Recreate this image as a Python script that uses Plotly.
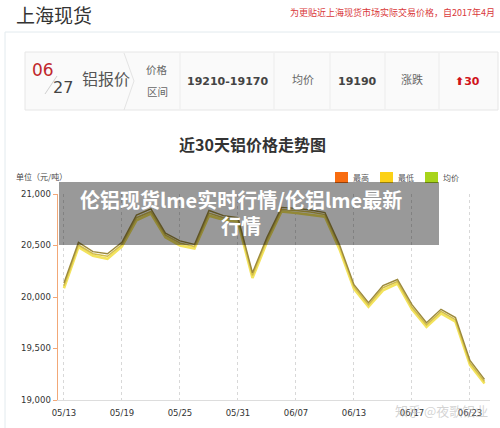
import plotly.graph_objects as go

# ---------------- data ----------------
dates = ["05/13", "05/16", "05/17", "05/18", "05/19", "05/20", "05/23", "05/24", "05/25", "05/26",
         "05/27", "05/30", "05/31", "06/01", "06/02", "06/03", "06/07", "06/08", "06/10", "06/12",
         "06/13", "06/14", "06/15", "06/16", "06/17", "06/20", "06/21", "06/22", "06/23", "06/24"]
price_high = [20135, 20530, 20440, 20420, 20530, 20795, 20855, 20620, 20545, 20510,
              20840, 20790, 20770, 20235, 20580, 20870, 20860, 20845, 20820, 20510,
              20120, 19945, 20110, 20170, 19925, 19750, 19880, 19800, 19385, 19200]
price_low = [20085, 20485, 20400, 20370, 20490, 20745, 20810, 20580, 20500, 20470,
             20790, 20750, 20730, 20185, 20535, 20830, 20815, 20800, 20780, 20465,
             20080, 19905, 20065, 20130, 19880, 19710, 19840, 19760, 19340, 19160]
price_avg = [20110, 20505, 20420, 20395, 20510, 20770, 20830, 20600, 20525, 20490,
             20815, 20770, 20750, 20210, 20560, 20850, 20840, 20825, 20800, 20490,
             20100, 19925, 20090, 20150, 19900, 19730, 19860, 19780, 19360, 19180]
y_ticks = [19000, 19500, 20000, 20500, 21000]
y_ticktext = ["19,000", "19,500", "20,000", "20,500", "21,000"]
x_tick_labels = dates[::4]
series_names = ["最高", "最低", "均价"]

# ---------------- layout helpers (pixels -> paper) ----------------
W, H = 500, 428
L, R, T, B = 58, 490, 194, 400
def px(x):
    return (x - L) / (R - L)
def py(y):
    return (B - y) / (B - T)

CJK = "Noto Sans CJK SC"
NUM = "DejaVu Sans"

fig = go.Figure()
fig.add_trace(go.Scatter(x=dates, y=price_low, mode="lines", name=series_names[1],
                         line=dict(color="#f3e35c", width=2.6), showlegend=False, hoverinfo="skip"))
fig.add_trace(go.Scatter(x=dates, y=price_avg, mode="lines", name=series_names[2],
                         line=dict(color="#d2bd4a", width=1.5), showlegend=False, hoverinfo="skip"))
fig.add_trace(go.Scatter(x=dates, y=price_high, mode="lines", name=series_names[0],
                         line=dict(color="#9c8a3c", width=1.4), showlegend=False, hoverinfo="skip"))

shapes = []
ann = []

def rect(x0, y0, x1, y1, fill=None, line=None, lw=1, layer="below"):
    shapes.append(dict(type="rect", xref="paper", yref="paper",
                       x0=px(x0), x1=px(x1), y0=py(y1), y1=py(y0),
                       fillcolor=fill if fill else "rgba(0,0,0,0)",
                       line=dict(color=line if line else "rgba(0,0,0,0)", width=lw if line else 0),
                       layer=layer))

def seg(x0, y0, x1, y1, color, w=1, layer="below"):
    shapes.append(dict(type="line", xref="paper", yref="paper",
                       x0=px(x0), x1=px(x1), y0=py(y0), y1=py(y1),
                       line=dict(color=color, width=w), layer=layer))

def text(x, y, s, size, color="#333", family=CJK, xa="center", ya="middle", bold=False):
    ann.append(dict(x=px(x), y=py(y), xref="paper", yref="paper", text=s, showarrow=False,
                    xanchor=xa, yanchor=ya,
                    font=dict(size=size, color=color, family=family, weight="bold" if bold else "normal")))

# page header
text(14, 14, "上海现货", 19, "#333", xa="left")
text(288, 12, "为更贴近上海现货市场实际交易价格，自2017年4月", 9, "#d9383a", xa="left")

# outer panel border
seg(5, 32, 500, 32, "#e2eaee", 1)
seg(5, 32, 5, 428, "#e2eaee", 1)

# info box
rect(25, 52, 498, 110, fill="#fafafa", line="#e6e6e6")
shapes.append(dict(type="path", xref="paper", yref="paper",
                   path=f"M {px(124)},{py(53)} L {px(134)},{py(81)} L {px(124)},{py(110)}",
                   line=dict(color="#e4e4e4", width=1), layer="below"))
for xd in [180, 274, 330, 385, 439]:
    seg(xd, 53, xd, 109, "#ececec", 1)
seg(45, 94, 57, 76, "#cfcfcf", 1)
text(43, 70, "06", 17, "#c0282d", family=NUM)
text(63, 87, "27", 16, "#444", family=NUM)
text(106, 78, "铝报价", 16, "#555")
text(157, 69, "价格", 10.5, "#666")
text(157, 91, "区间", 10.5, "#666")
text(227, 81, "19210-19170", 11, "#444", family=NUM, bold=True)
text(303, 79, "均价", 11, "#666")
text(357, 81, "19190", 11, "#444", family=NUM, bold=True)
text(412, 79, "涨跌", 11, "#666")
text(467, 81, "⬆30", 11, "#d0141b", family=NUM, bold=True)

# chart title, unit, legend
text(252, 144, "近30天铝价格走势图", 16, "#333", bold=True)
text(14, 176, "单位（元/吨）", 8, "#444", xa="left")
leg_colors = ["#f86c10", "#fcd116", "#a8d41a"]
leg_x = [335, 380, 425]
for name, c, lx in zip(series_names, leg_colors, leg_x):
    rect(lx, 172, lx + 13, 183, fill=c)
    text(lx + 16, 177.5, name, 8, "#555", xa="left")

# watermark (drawn behind the tick labels, faint)
text(441, 410, "知乎 @夜歌铝业", 13, "rgba(175,175,175,0.55)")

# overlay banner
rect(59, 182, 439, 245, fill="rgba(0,0,0,0.40)", layer="above")
ann.append(dict(x=px(241), y=py(212), xref="paper", yref="paper",
                text="伦铝现货lme实时行情/伦铝lme最新<br>行情", showarrow=False,
                xanchor="center", yanchor="middle", align="center",
                font=dict(size=20, color="white", family=CJK, weight="bold")))

fig.update_layout(
    width=W, height=H,
    margin=dict(l=L, r=W - R, t=T, b=H - B),
    paper_bgcolor="white", plot_bgcolor="white",
    shapes=shapes, annotations=ann, hovermode=False,
    xaxis=dict(type="linear", range=[-0.41, 29.38],
               tickmode="array", tickvals=[dates.index(d) for d in x_tick_labels], ticktext=x_tick_labels,
               showgrid=True, gridcolor="#d8d8d8", griddash="dot", gridwidth=1,
               showline=True, linecolor="#dddddd", linewidth=1, zeroline=False,
               ticks="outside", ticklen=5, tickcolor="rgba(0,0,0,0)",
               tickangle=0, showspikes=False,
               tickfont=dict(size=8.5, color="#333", family=NUM), fixedrange=True),
    yaxis=dict(range=[19000, 21000], tickmode="array", tickvals=y_ticks, ticktext=y_ticktext,
               showgrid=False, zeroline=False, showspikes=False,
               showline=True, linecolor="#f2a878", linewidth=1.5,
               ticks="outside", ticklen=4, tickcolor="#f2a878",
               tickfont=dict(size=8.5, color="#333", family=NUM), fixedrange=True),
    showlegend=False,
)
# traces use category index positions on a linear axis
for tr in fig.data:
    tr.x = list(range(len(dates)))
    tr.customdata = dates

fig.write_html("out.html", config={"displayModeBar": False, "staticPlot": True},
               post_script="document.body.style.margin='0px';document.body.style.overflow='hidden';")
